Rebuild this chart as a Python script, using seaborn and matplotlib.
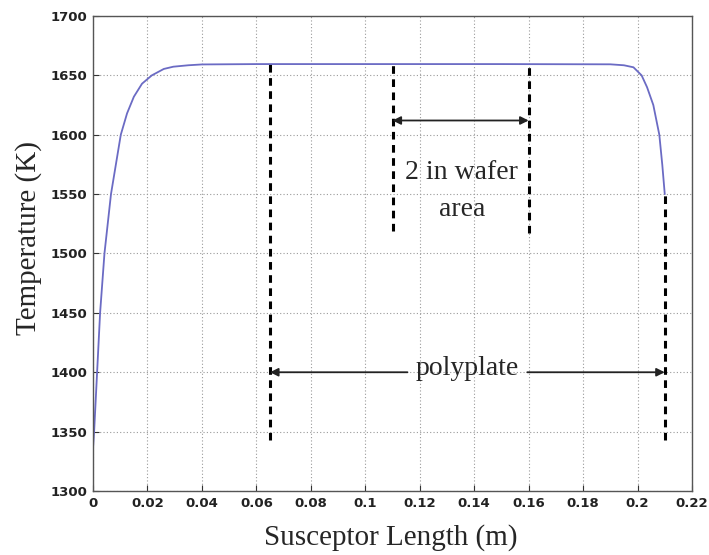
import matplotlib
matplotlib.use("Agg")
import matplotlib.pyplot as plt
import seaborn as sns
import pandas as pd

# Data
length_m = [0.0, 0.0004, 0.0015, 0.0026, 0.0042, 0.0066, 0.0102, 0.0125, 0.015,
            0.018, 0.0216, 0.026, 0.0295, 0.035, 0.04, 0.06, 0.10, 0.15, 0.19,
            0.195, 0.1985, 0.2015, 0.2035, 0.2058, 0.208, 0.2091, 0.21]
temperature_k = [1336, 1350, 1400, 1450, 1500, 1550, 1600, 1618, 1632,
                 1643, 1650, 1655.4, 1657.3, 1658.5, 1659.2, 1659.5, 1659.5, 1659.5, 1659.3,
                 1658.5, 1656.8, 1650, 1640, 1625, 1600, 1574.5, 1550]

x_ticks = [0, 0.02, 0.04, 0.06, 0.08, 0.1, 0.12, 0.14, 0.16, 0.18, 0.2, 0.22]
x_tick_labels = ["0", "0.02", "0.04", "0.06", "0.08", "0.1", "0.12", "0.14",
                 "0.16", "0.18", "0.2", "0.22"]
y_ticks = [1300, 1350, 1400, 1450, 1500, 1550, 1600, 1650, 1700]

# Annotation markers (dashed verticals: x, y_bottom, y_top)
marker_x = [0.065, 0.11, 0.16, 0.21]
marker_bottom = [1343, 1519, 1517, 1343]
marker_top = [1659.5, 1659.5, 1659.5, 1550]
wafer_arrow = (0.11, 0.16, 1612)
poly_arrow = (0.065, 0.1155, 0.1595, 0.21, 1400)

df = pd.DataFrame({"Susceptor Length (m)": length_m, "Temperature (K)": temperature_k})

sns.set_style("white")
fig = plt.figure(figsize=(7.09, 5.55), dpi=100)
ax = fig.add_axes([0.1312, 0.1153, 0.8448, 0.8559])

sns.lineplot(data=df, x="Susceptor Length (m)", y="Temperature (K)", ax=ax,
             color="#6b6bc4", linewidth=1.3, sort=False, estimator=None)

ax.set_xlim(0, 0.22)
ax.set_ylim(1300, 1700)
ax.set_xticks(x_ticks)
ax.set_xticklabels(x_tick_labels)
ax.set_yticks(y_ticks)
ax.grid(True, linestyle=(0, (1, 2)), color="#9a9a9a", linewidth=0.8)
for s in ax.spines.values():
    s.set_color("#555555")
    s.set_linewidth(1.0)
ax.tick_params(direction="in", length=4, width=0.8, color="#333333",
               labelsize=9.5, pad=4, top=False, right=False, bottom=True, left=True)
for lab in ax.get_xticklabels() + ax.get_yticklabels():
    lab.set_fontweight("bold")
    lab.set_color("#222222")

serif = ["Liberation Serif", "DejaVu Serif"]
ax.set_xlabel("Susceptor Length (m)", fontsize=21, family=serif, va="center")
ax.set_ylabel("Temperature (K)", fontsize=21, family=serif, va="center")
ax.xaxis.set_label_coords(0.497, -0.097)
ax.yaxis.set_label_coords(-0.108, 0.533)

# dashed vertical markers
for x, yb, yt in zip(marker_x, marker_bottom, marker_top):
    ax.plot([x, x], [yb, yt], color="black", linewidth=2.2,
            linestyle=(0, (2.5, 1.8)), zorder=3)

arrow_kw = dict(arrowstyle="-|>", color="#222222", lw=1.3, mutation_scale=12,
                shrinkA=0, shrinkB=0)
# wafer double arrow
ax.annotate("", xy=(wafer_arrow[0], wafer_arrow[2]), xytext=(wafer_arrow[1], wafer_arrow[2]),
            arrowprops=dict(arrowstyle="<|-|>", color="#222222", lw=1.3,
                            mutation_scale=12, shrinkA=0, shrinkB=0))
ax.text(0.1355, 1568, "2 in wafer", ha="center", va="center", fontsize=20, family=serif)
ax.text(0.1355, 1537, "area", ha="center", va="center", fontsize=20, family=serif)

# polyplate arrows
ax.annotate("", xy=(poly_arrow[0], poly_arrow[4]), xytext=(poly_arrow[1], poly_arrow[4]),
            arrowprops=arrow_kw)
ax.annotate("", xy=(poly_arrow[3], poly_arrow[4]), xytext=(poly_arrow[2], poly_arrow[4]),
            arrowprops=arrow_kw)
ax.text(0.1375, 1403, "polyplate", ha="center", va="center", fontsize=20, family=serif)

fig.savefig("out.png", dpi=100)
